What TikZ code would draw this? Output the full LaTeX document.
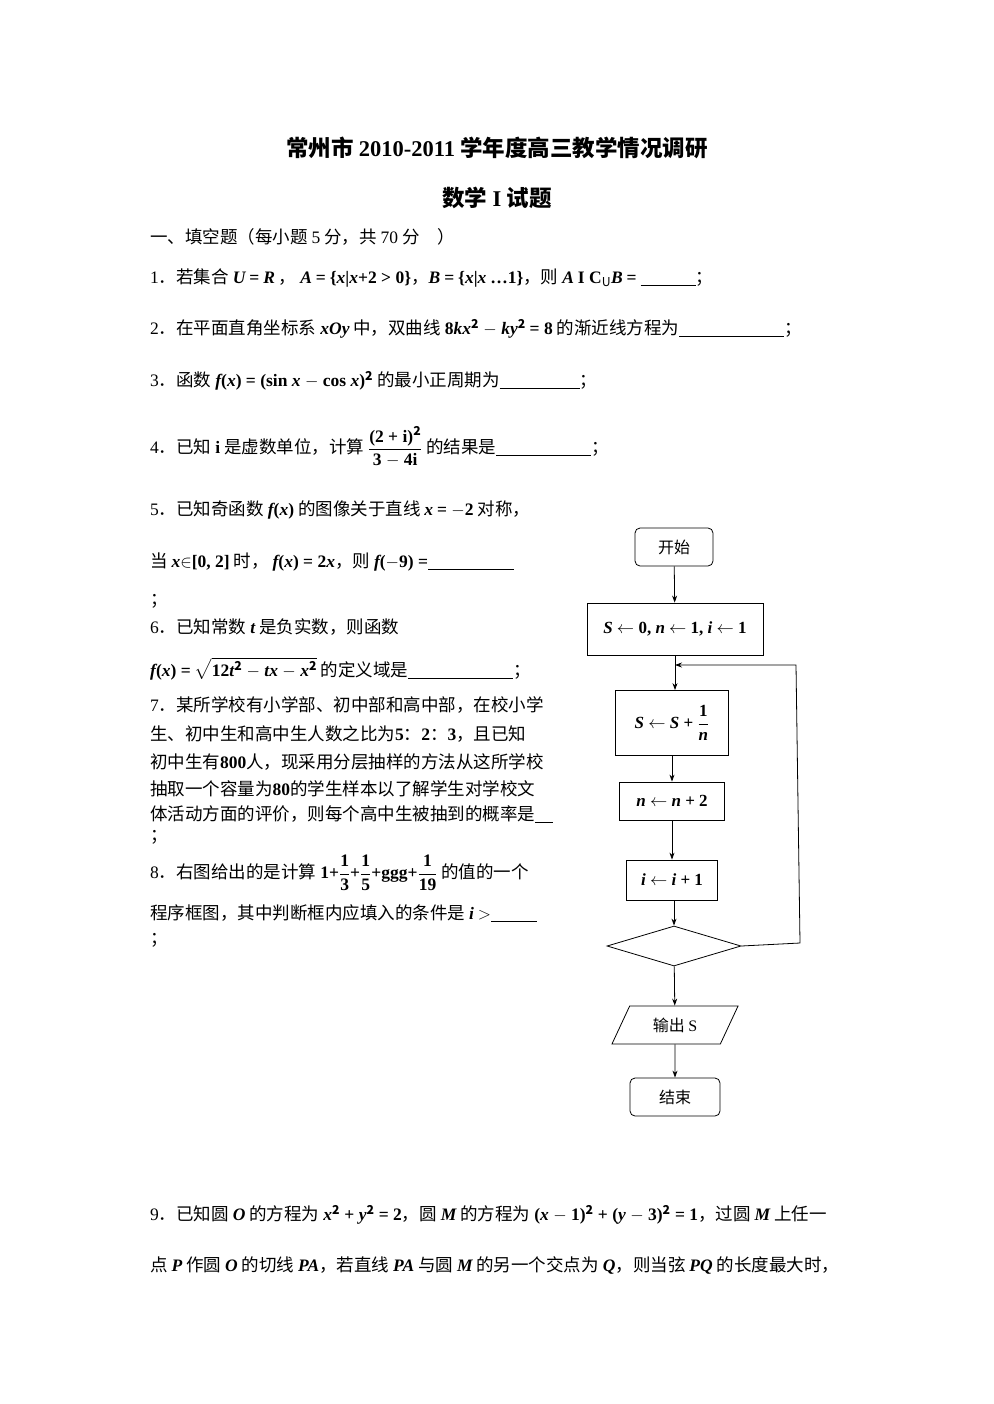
\documentclass[tikz,border=0pt]{standalone}
\usepackage{amsmath}
\usepackage{fontspec}
\setmainfont{Noto Sans CJK SC}
\newfontfamily\tm{Liberation Serif}
\usetikzlibrary{shapes.geometric,arrows.meta}
\newcommand\mi[1]{{\tm\bfseries\itshape #1}}
\newcommand\mb[1]{{\tm\bfseries #1}}
\newcommand\tr[1]{{\tm #1}}
\newcommand\ul[1]{\rule[-2pt]{#1pt}{0.7pt}}
\newcommand\fr[2]{$\dfrac{\mbox{#1}}{\mbox{#2}}$}
\begin{document}
\begin{tikzpicture}[x=1pt,y=-1pt,
  txt/.style={anchor=west,inner sep=0pt,font=\fontsize{17.5}{19}\selectfont},
  box/.style={draw,thick,minimum height=38pt,font=\fontsize{17}{19}\selectfont},
  rbox/.style={box,rounded corners=5pt,minimum width=86pt,font=\fontsize{16}{18}\selectfont},
  arr/.style={-{Stealth[length=7pt,width=5pt]},thick}]
\useasboundingbox (0,0) rectangle (993,1404);
\fill[white] (0,0) rectangle (993,1404);
% title
\node[inner sep=0pt,font=\fontsize{22.5}{24}\selectfont\bfseries] at (497,148) {常州市 \mb{2010-2011} 学年度高三教学情况调研};
\node[inner sep=0pt,font=\fontsize{22.5}{24}\selectfont\bfseries] at (497,198) {数学 \tr{I} 试题};
\node[txt] at (150,237) {一、填空题（每小题 \tr{5} 分，共 \tr{70} 分　）};
\node[txt] at (150,278) {\tr{1}．若集合 \mi{U} \mb{=} \mi{R} ， \mi{A} \mb{=} \mb{\{}\mi{x}\mb{|}\mi{x}\mb{+2 > 0}\mb{\}}，\mi{B} \mb{=} \mb{\{}\mi{x}\mb{|}\mi{x} \mb{…1}\mb{\}}，则 \mi{A} \mb{I C$_{\mathit U}$}\mi{B} \mb{=} \ul{55}；};
\node[txt] at (150,329) {\tr{2}．在平面直角坐标系 \mi{xOy} 中，双曲线 \mb{8}\mi{kx}$^{\mathbf 2}$\mb{ $-$ }\mi{ky}$^{\mathbf 2}$ \mb{= 8} 的渐近线方程为\ul{105}；};
\node[txt] at (150,381) {\tr{3}．函数 \mi{f}\mb{(}\mi{x}\mb{) = (sin }\mi{x}\mb{ $-$ cos }\mi{x}\mb{)}$^{\mathbf 2}$ 的最小正周期为\ul{80}；};
\node[txt] at (150,447) {\tr{4}．已知 \mb{i} 是虚数单位，计算 \fr{\mb{(2 + i)$^{\mathbf 2}$}}{\mb{3 $-$ 4i}} 的结果是\ul{95}；};
\node[txt] at (150,510) {\tr{5}．已知奇函数 \mi{f}\mb{(}\mi{x}\mb{)} 的图像关于直线 \mi{x} \mb{= $-$2} 对称，};
\node[txt] at (150,562) {当 \mi{x}\mb{$\in$}\mb{[0, 2]} 时， \mi{f}\mb{(}\mi{x}\mb{) = 2}\mi{x}，则 \mi{f}\mb{($-$9) =}\ul{86}};
\node[txt] at (150,601) {；};
\node[txt] at (150,627) {\tr{6}．已知常数 \mi{t} 是负实数，则函数};
\node[txt] at (150,669) {\mi{f}\mb{(}\mi{x}\mb{) =} $\sqrt{\mbox{\mb{12}\mi{t}$^{\mathbf 2}$\mb{ $-$ }\mi{tx}\mb{ $-$ }\mi{x}$^{\mathbf 2}$}}$ 的定义域是\ul{105}；};
\node[txt] at (150,705) {\tr{7}．某所学校有小学部、初中部和高中部，在校小学};
\node[txt] at (150,734) {生、初中生和高中生人数之比为\mb{5}：\mb{2}：\mb{3}，且已知};
\node[txt] at (150,762) {初中生有\mb{800}人，现采用分层抽样的方法从这所学校};
\node[txt] at (150,789) {抽取一个容量为\mb{80}的学生样本以了解学生对学校文};
\node[txt] at (150,814) {体活动方面的评价，则每个高中生被抽到的概率是\ul{18}};
\node[txt] at (150,837) {；};
\node[txt] at (150,873) {\tr{8}．右图给出的是计算 \mb{1+}\fr{\mb{1}}{\mb{3}}\mb{+}\fr{\mb{1}}{\mb{5}}\mb{+ggg+}\fr{\mb{1}}{\mb{19}} 的值的一个};
\node[txt] at (150,913) {程序框图，其中判断框内应填入的条件是 \mi{i} \mb{$>$}\ul{46}};
\node[txt] at (150,940) {；};
\node[txt] at (150,1215) {\tr{9}．已知圆 \mi{O} 的方程为 \mi{x}$^{\mathbf 2}$\mb{ + }\mi{y}$^{\mathbf 2}$\mb{ = 2}，圆 \mi{M} 的方程为 \mb{(}\mi{x}\mb{ $-$ 1)}$^{\mathbf 2}$\mb{ + (}\mi{y}\mb{ $-$ 3)}$^{\mathbf 2}$\mb{ = 1}，过圆 \mi{M} 上任一};
\node[txt] at (150,1265) {点 \mi{P} 作圆 \mi{O} 的切线 \mi{PA}，若直线 \mi{PA} 与圆 \mi{M} 的另一个交点为 \mi{Q}，则当弦 \mi{PQ} 的长度最大时，};
% flowchart
\node[rbox,minimum width=78pt] (start) at (674,547) {开始};
\node[box,minimum width=176pt,minimum height=52pt] (init) at (675,629) {\mi{S}\mb{ $\leftarrow$ 0, }\mi{n}\mb{ $\leftarrow$ 1, }\mi{i}\mb{ $\leftarrow$ 1}};
\node[box,minimum width=113pt,minimum height=65pt] (sum) at (672,723) {\mi{S}\mb{ $\leftarrow$ }\mi{S}\mb{ + }\fr{\mb{1}}{\mi{n}}};
\node[box,minimum width=105pt] (nn) at (672,801) {\mi{n}\mb{ $\leftarrow$ }\mi{n}\mb{ + 2}};
\node[box,minimum width=91pt,minimum height=40pt] (ii) at (672,880) {\mi{i}\mb{ $\leftarrow$ }\mi{i}\mb{ + 1}};
\node[draw,thick,diamond,aspect=3.4,minimum width=134pt,minimum height=40pt,inner sep=0pt] (dec) at (674,946) {};
\node[draw,thick,trapezium,trapezium left angle=65,trapezium right angle=115,minimum width=100pt,minimum height=38pt,font=\fontsize{16}{18}\selectfont] (out) at (675,1025) {输出 \tr{S}};
\node[rbox,minimum width=90pt] (end) at (675,1097) {结束};
\coordinate (m) at (675,665);
\coordinate (r1) at (800,943);
\coordinate (r2) at (796,665);
\draw[arr] (start) -- (init);
\draw[arr] (init.south -| m) -- (sum.north -| m);
\draw[arr] (sum) -- (nn);
\draw[arr] (nn) -- (ii);
\draw[arr] (ii.south -| dec.north) -- (dec.north);
\draw[arr] (dec) -- (out);
\draw[arr] (out) -- (end);
\draw[arr] (dec.east) -- (r1) -- (r2) -- (m);
\end{tikzpicture}
\end{document}
